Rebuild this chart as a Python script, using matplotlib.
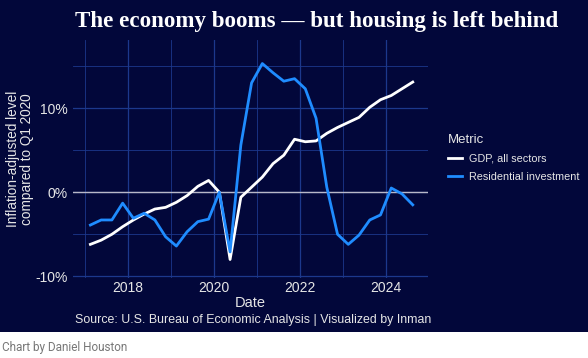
import matplotlib
matplotlib.use("Agg")
import matplotlib.pyplot as plt
from matplotlib.patches import Rectangle
from matplotlib.ticker import FixedLocator, FuncFormatter

# Quarterly data, 2017 Q1 .. 2024 Q3 (mid-quarter positions)
years = [2017]*4 + [2018]*4 + [2019]*4 + [2020]*4 + [2021]*4 + [2022]*4 + [2023]*4 + [2024]*3
quarters = [1, 2, 3, 4]*7 + [1, 2, 3]
gdp = [-6.2, -5.7, -5.0, -4.1, -3.3, -2.6, -2.0, -1.8, -1.2, -0.4, 0.7, 1.4,
       0.0, -8.0, -0.6, 0.6, 1.8, 3.4, 4.4, 6.3, 6.0, 6.1, 7.0, 7.7,
       8.3, 8.9, 10.1, 11.0, 11.5, 12.3, 13.1]
resid = [-3.9, -3.3, -3.3, -1.3, -3.1, -2.5, -3.3, -5.3, -6.4, -4.7, -3.5, -3.2,
         0.0, -7.1, 5.6, 13.0, 15.3, 14.2, 13.2, 13.5, 12.3, 8.8, 0.6, -5.0,
         -6.2, -5.1, -3.3, -2.7, 0.5, -0.2, -1.5]
series_names = ["GDP, all sectors", "Residential investment"]
xtick_years = [2018, 2020, 2022, 2024]
ytick_vals = [-10, 0, 10]

dates = [y + (q - 1) * 0.25 + 0.125 for y, q in zip(years, quarters)]

BG = "#02073a"
GRID = "#1c388c"
BLUE = "#1f8cff"
TXT = "#e6e6e6"

plt.rcParams['font.family'] = ['Liberation Sans', 'DejaVu Sans']

fig = plt.figure(figsize=(5.88, 3.58), dpi=100)
fig.patch.set_facecolor("white")
fig.patches.append(Rectangle((0, 26/358), 1, 1 - 26/358, transform=fig.transFigure,
                             facecolor=BG, edgecolor="none", zorder=-10))

ax = fig.add_axes([73/588, 80/358, (428-73)/588, (278-40)/358])
ax.set_facecolor(BG)
for s in ax.spines.values():
    s.set_visible(False)

ax.set_xlim(2016.72, 2024.98)
ax.set_ylim(-10.2, 18.1)

ax.xaxis.set_major_locator(FixedLocator(xtick_years))
ax.xaxis.set_minor_locator(FixedLocator([2017, 2019, 2021, 2023, 2025]))
ax.yaxis.set_major_locator(FixedLocator(ytick_vals))
ax.yaxis.set_minor_locator(FixedLocator([-5, 5, 15]))
ax.yaxis.set_major_formatter(FuncFormatter(lambda v, p: f"{int(v)}%"))
ax.grid(True, which="major", color=GRID, linewidth=0.9)
ax.grid(True, which="minor", color=GRID, linewidth=0.6)
ax.set_axisbelow(True)
ax.tick_params(which="both", length=0, colors=TXT, labelsize=10, pad=4)
ax.tick_params(axis="x", pad=2)

ax.axhline(0, color="#b8b8c8", linewidth=1.0, zorder=1)

l1, = ax.plot(dates, gdp, color="white", linewidth=2.0, label=series_names[0], zorder=3)
l2, = ax.plot(dates, resid, color=BLUE, linewidth=2.0, label=series_names[1], zorder=3)

ax.set_xlabel("Date", color=TXT, fontsize=10.5, labelpad=1)
ax.set_ylabel("Inflation-adjusted level\ncompared to Q1 2020", color=TXT,
              fontsize=9.8, linespacing=1.0)
ax.yaxis.set_label_coords(-(73 - 34) / (428 - 73), 0.5)

leg = fig.legend(handles=[l1, l2], loc="upper left", bbox_to_anchor=(438/588, 1 - 124/358),
                 frameon=False, title="Metric", fontsize=7.8, title_fontsize=9.5,
                 handlelength=1.3, handletextpad=0.7, labelspacing=0.75, alignment="left")
for t in leg.get_texts():
    t.set_color(TXT)
leg.get_title().set_color(TXT)

fig.text(317/588, 1 - 22/358, "The economy booms \u2014 but housing is left behind",
         ha="center", va="center", color="white", fontsize=16.6, fontweight="bold",
         family=["Liberation Serif", "DejaVu Serif"])
fig.text(253/588, 1 - 320/358, "Source: U.S. Bureau of Economic Analysis | Visualized by Inman",
         ha="center", va="center", color=TXT, fontsize=8.9)
fig.text(2/588, 1 - 347/358, "Chart by Daniel Houston", ha="left", va="center",
         color="#777777", fontsize=8.5, family=["Roboto", "DejaVu Sans"])

fig.savefig("out.png", dpi=100, facecolor=fig.get_facecolor())
